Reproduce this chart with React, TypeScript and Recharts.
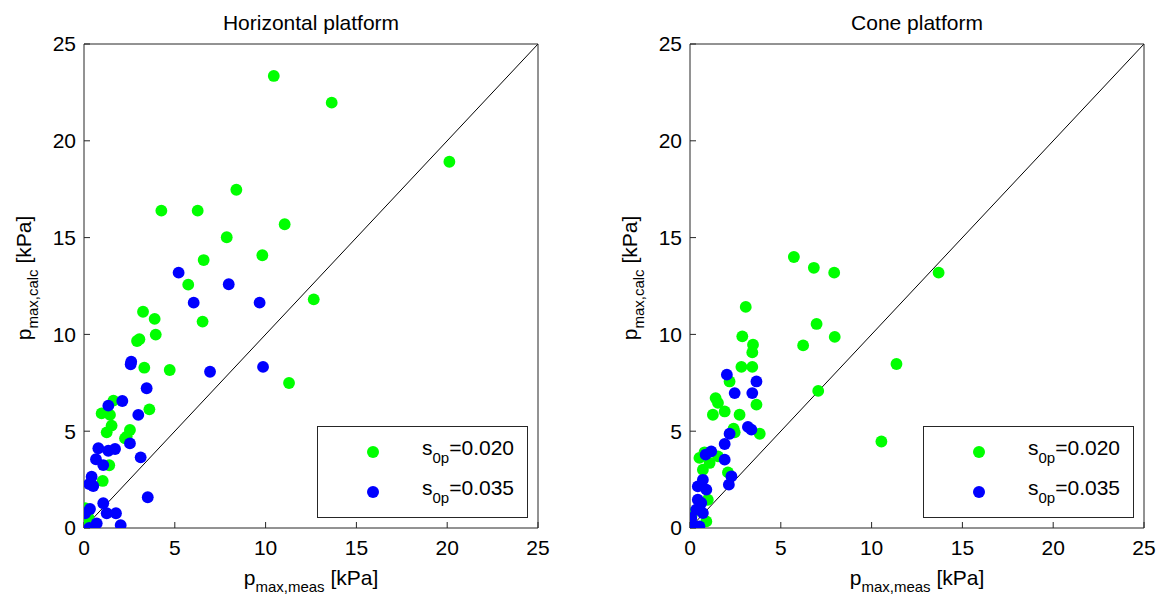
import { ScatterChart, Scatter, XAxis, YAxis, ZAxis, ReferenceLine, Legend } from 'recharts'

// pressure pairs [p_max,meas, p_max,calc] in kPa
const horizontal020 = [
  [10.45, 23.35], [13.64, 21.97], [20.12, 18.92], [8.39, 17.47], [4.26, 16.39], [6.26, 16.39],
  [11.05, 15.69], [7.86, 15.02], [9.82, 14.09], [6.59, 13.84], [5.74, 12.57], [12.65, 11.81],
  [3.25, 11.17], [3.89, 10.8], [6.53, 10.66], [3.95, 9.99], [3.05, 9.75], [2.92, 9.66],
  [3.32, 8.28], [4.72, 8.16], [11.29, 7.49], [1.62, 6.58], [3.6, 6.13], [0.97, 5.92],
  [1.43, 5.84], [1.52, 5.29], [2.53, 5.06], [1.25, 4.94], [2.35, 4.72], [2.26, 4.63],
  [1.39, 3.24], [1.03, 2.43], [0.06, 1.02], [0.24, 0.55], [0.24, 0.41], [0.05, 0.0],
]

const horizontal035 = [
  [5.21, 13.19], [7.97, 12.59], [6.04, 11.64], [9.67, 11.64], [2.6, 8.59], [2.57, 8.46],
  [9.86, 8.32], [6.94, 8.07], [3.45, 7.22], [2.11, 6.56], [1.34, 6.32], [2.99, 5.84],
  [2.53, 4.37], [0.79, 4.12], [1.71, 4.08], [1.34, 3.99], [3.12, 3.65], [0.66, 3.55],
  [1.06, 3.25], [0.42, 2.65], [0.29, 2.27], [0.51, 2.17], [3.51, 1.59], [1.06, 1.28],
  [0.33, 0.98], [0.06, 0.76], [1.25, 0.76], [1.76, 0.76], [0.7, 0.24], [2.02, 0.15], [0.29, 0.0],
]

const cone020 = [
  [5.72, 14.0], [6.82, 13.44], [7.94, 13.19], [13.69, 13.19], [3.07, 11.42], [6.97, 10.54],
  [2.88, 9.9], [7.97, 9.87], [3.47, 9.47], [6.23, 9.43], [3.43, 9.07], [11.37, 8.47],
  [2.83, 8.32], [3.43, 8.32], [2.18, 7.57], [7.06, 7.08], [1.41, 6.71], [1.54, 6.46],
  [3.66, 6.37], [1.91, 6.02], [1.26, 5.85], [2.73, 5.85], [2.4, 5.13], [2.46, 4.94],
  [3.84, 4.87], [10.54, 4.47], [0.8, 3.91], [1.54, 3.7], [0.52, 3.62], [1.08, 3.36],
  [0.71, 3.01], [2.09, 2.87], [0.98, 1.46], [0.15, 0.77], [0.07, 0.57], [0.9, 0.34],
]

const cone035 = [
  [2.03, 7.92], [3.66, 7.57], [2.46, 6.97], [3.43, 6.97], [3.19, 5.22], [3.38, 5.08],
  [2.18, 4.87], [1.91, 4.34], [1.17, 3.96], [0.86, 3.79], [1.91, 3.53], [2.28, 2.67],
  [0.71, 2.49], [2.14, 2.24], [0.43, 2.15], [0.9, 1.98], [0.43, 1.46], [0.62, 1.29],
  [0.34, 0.95], [0.71, 0.77], [0.0, 0.43], [0.07, 0.52], [0.15, 0.17], [0.52, 0.08], [0.15, 0.0],
]

const TICKS = [0, 5, 10, 15, 20, 25]
const DIAGONAL = [{ x: 0, y: 0 }, { x: 25, y: 25 }]
const SLOPES = ['0.020', '0.035']

const GREEN = '#00ff00'
const BLUE = '#0000ff'
const AXIS_COLOR = '#262626'
const FONT = '"Liberation Sans", Arial, Helvetica, sans-serif'

const toPoints = (pairs: number[][]) => pairs.map(([x, y]) => ({ x, y }))

function PanelTitle({ viewBox, text }: any) {
  const vb = viewBox ?? { x: 84, y: 43, width: 454, height: 1 }
  return (
    <text x={vb.x + vb.width / 2} y={30} textAnchor="middle" fontSize={21} fill="#000">
      {text}
    </text>
  )
}

function XTitle({ viewBox }: any) {
  const vb = viewBox ?? { x: 84, y: 528, width: 454, height: 70 }
  return (
    <text x={vb.x + vb.width / 2} y={585} textAnchor="middle" fontSize={21} fill="#000">
      p<tspan fontSize={15} dy={7}>max,meas</tspan>
      <tspan dy={-7}> [kPa]</tspan>
    </text>
  )
}

function YTitle({ viewBox }: any) {
  const vb = viewBox ?? { x: 0, y: 44, width: 84, height: 484 }
  const cy = vb.y + vb.height / 2 - 8
  return (
    <text transform={`translate(31, ${cy}) rotate(-90)`} textAnchor="middle" fontSize={21} fill="#000">
      p<tspan fontSize={15} dy={7}>max,calc</tspan>
      <tspan dy={-7}> [kPa]</tspan>
    </text>
  )
}

function LegendBox() {
  const colors = [GREEN, BLUE]
  return (
    <div
      style={{
        position: 'relative',
        width: 211,
        height: 92,
        boxSizing: 'border-box',
        border: `1px solid ${AXIS_COLOR}`,
        background: '#fff',
        fontFamily: FONT,
      }}
    >
      {SLOPES.map((s, i) => (
        <div key={s}>
          <div
            style={{
              position: 'absolute',
              left: 49,
              top: 19 + i * 40,
              width: 12,
              height: 12,
              borderRadius: '50%',
              background: colors[i],
            }}
          />
          <div
            style={{
              position: 'absolute',
              left: 104,
              top: 9.5 + i * 40,
              fontSize: 21,
              lineHeight: '21px',
              color: '#000',
              whiteSpace: 'nowrap',
            }}
          >
            s<span style={{ fontSize: 15, position: 'relative', top: 8 }}>0p</span>={s}
          </div>
        </div>
      ))}
    </div>
  )
}

function Panel({ title, green, blue }: { title: string; green: number[][]; blue: number[][] }) {
  return (
    <ScatterChart width={560} height={598} margin={{ top: 43, right: 21, bottom: 0, left: 0 }}>
      <XAxis
        type="number"
        dataKey="x"
        domain={[0, 25]}
        ticks={TICKS}
        interval={0}
        allowDataOverflow
        height={70}
        tickSize={-6}
        tickMargin={18}
        stroke={AXIS_COLOR}
        tick={{ fill: '#000', fontSize: 21 }}
        label={<XTitle />}
      />
      <XAxis
        xAxisId="top"
        orientation="top"
        type="number"
        domain={[0, 25]}
        ticks={TICKS}
        interval={0}
        allowDataOverflow
        height={1}
        tickSize={-6}
        tick={false}
        stroke={AXIS_COLOR}
        label={<PanelTitle text={title} />}
      />
      <YAxis
        type="number"
        dataKey="y"
        domain={[0, 25]}
        ticks={TICKS}
        interval={0}
        allowDataOverflow
        width={84}
        tickSize={-6}
        tickMargin={14}
        stroke={AXIS_COLOR}
        tick={{ fill: '#000', fontSize: 21 }}
        label={<YTitle />}
      />
      <YAxis
        yAxisId="right"
        orientation="right"
        type="number"
        domain={[0, 25]}
        ticks={TICKS}
        interval={0}
        allowDataOverflow
        width={1}
        tickSize={-6}
        tick={false}
        stroke={AXIS_COLOR}
      />
      <ZAxis range={[110, 110]} />
      <ReferenceLine segment={DIAGONAL} stroke="#000" strokeWidth={1} ifOverflow="extendDomain" />
      <Scatter name={SLOPES[0]} data={toPoints(green)} fill={GREEN} isAnimationActive={false} />
      <Scatter name={SLOPES[1]} data={toPoints(blue)} fill={BLUE} isAnimationActive={false} />
      <Legend
        layout="horizontal"
        verticalAlign="middle"
        align="center"
        wrapperStyle={{ left: 317, top: 426, width: 211, height: 92 }}
        content={() => <LegendBox />}
      />
    </ScatterChart>
  )
}

export default function App() {
  return (
    <div
      style={{
        position: 'absolute',
        left: 0,
        top: 0,
        width: 1163,
        height: 598,
        background: '#fff',
        fontFamily: FONT,
      }}
    >
      <div style={{ position: 'absolute', left: 0, top: 0 }}>
        <Panel title="Horizontal platform" green={horizontal020} blue={horizontal035} />
      </div>
      <div style={{ position: 'absolute', left: 606, top: 0 }}>
        <Panel title="Cone platform" green={cone020} blue={cone035} />
      </div>
    </div>
  )
}
